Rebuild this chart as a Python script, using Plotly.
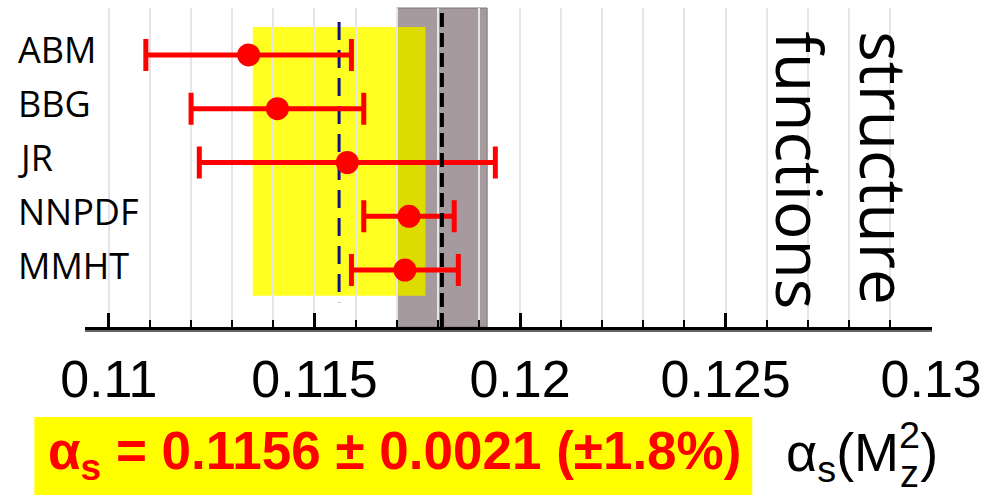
import plotly.graph_objects as go

# ---------------- data ----------------
groups = ["ABM", "BBG", "JR", "NNPDF", "MMHT"]
alpha_vals = [0.1134, 0.1141, 0.1158, 0.1173, 0.1172]
err_minus = [0.0025, 0.0021, 0.0036, 0.0011, 0.0013]
err_plus = [0.0025, 0.0021, 0.0036, 0.0011, 0.0013]

avg_value = 0.1156
avg_error = 0.0021
world_value = 0.1181
world_error = 0.0011

tick_vals = [0.11, 0.115, 0.12, 0.125, 0.13]
tick_text = ["0.11", "0.115", "0.12", "0.125", "0.13"]

rows = list(range(len(groups)))

# ---------------- layout constants ----------------
W, H = 990, 498
ML, MR, MT, MB = 85, 52, 8, 171
PW = W - ML - MR
PH = H - MT - MB
XR = [0.10942, 0.13002]
YR = [5.06, -0.874]


def px_x(p):
    return (p - ML) / PW


def px_y(p):
    return (H - MB - p) / PH


YELLOW = "#ffff22"
OVERLAP = "#dcdc00"
GREY = "#a59b9e"
GRID = "#e4e4ea"

fig = go.Figure()

fig.add_trace(go.Scatter(
    x=alpha_vals, y=rows, mode="markers",
    marker=dict(size=23, color="#ff0000"),
    error_x=dict(type="data", symmetric=False, array=err_plus, arrayminus=err_minus,
                 color="#ff0000", thickness=5, width=16),
    showlegend=False, hoverinfo="skip",
))

w_lo, w_hi = world_value - world_error, world_value + world_error
a_lo, a_hi = avg_value - avg_error, avg_value + avg_error
band_top, band_bot = -0.52, len(groups) - 1 + 0.48

shapes = [
    dict(type="rect", xref="x", yref="paper", x0=w_lo, x1=w_hi, y0=0, y1=1,
         fillcolor=GREY, line=dict(color="#7d7375", width=1), layer="below"),
    dict(type="rect", xref="x", yref="y", x0=a_lo, x1=min(a_hi, w_lo), y0=band_top, y1=band_bot,
         fillcolor=YELLOW, line=dict(width=0), layer="below"),
    dict(type="rect", xref="x", yref="y", x0=max(a_lo, w_lo), x1=a_hi, y0=band_top, y1=band_bot,
         fillcolor=OVERLAP, line=dict(width=0), layer="below"),
    dict(type="line", xref="x", yref="y", x0=avg_value, x1=avg_value, y0=-0.614, y1=len(groups) - 1 + 0.6,
         line=dict(color="#10108a", width=3, dash="18px,10px"), layer="below"),
    dict(type="line", xref="x", yref="paper", x0=world_value, x1=world_value, y0=0, y1=1,
         line=dict(color="black", width=4, dash="14px,6px"), layer="above"),
    dict(type="line", xref="paper", yref="paper", x0=0, x1=1, y0=-4 / PH, y1=-4 / PH,
         line=dict(color="#333333", width=1.5)),
    dict(type="rect", xref="paper", yref="paper", x0=px_x(34), x1=px_x(757), y0=px_y(495), y1=px_y(417),
         fillcolor="#ffff00", line=dict(width=0)),
]

annotations = []
for g, r in zip(groups, rows):
    annotations.append(dict(
        text=g, xref="paper", yref="y", x=px_x(16), y=r, xanchor="left", yanchor="middle",
        showarrow=False, yshift=5, font=dict(family="Open Sans", size=36, color="black")))

annotations.append(dict(
    text="structure<br>functions", xref="paper", yref="paper", x=px_x(848), y=px_y(170),
    xanchor="center", yanchor="middle", textangle=90, align="left", showarrow=False,
    font=dict(family="Open Sans", size=64, color="black")))

annotations.append(dict(
    text="<b>α<sub>s</sub> = %.4f ± %.4f (±%.1f%%)</b>" % (avg_value, avg_error, 100 * avg_error / avg_value),
    xref="paper", yref="paper", x=px_x(397), y=px_y(455), xanchor="center", yanchor="middle",
    showarrow=False,
    font=dict(family="Liberation Sans, Arial", size=53, color="#ff0000")))

# axis title alpha_s(M_z^2) with stacked sub/superscript
annotations.append(dict(
    text="α<sub>s</sub>(M<sup>2</sup>)",
    xref="paper", yref="paper", x=px_x(946), y=px_y(452), xanchor="right", yanchor="middle",
    showarrow=False,
    font=dict(family="Liberation Sans, Arial", size=54, color="black")))
annotations.append(dict(
    text="z",
    xref="paper", yref="paper", x=px_x(915), y=px_y(474), xanchor="center", yanchor="middle",
    showarrow=False,
    font=dict(family="Liberation Sans, Arial", size=38, color="black")))

fig.update_layout(
    width=W, height=H,
    margin=dict(l=ML, r=MR, t=MT, b=MB, pad=0),
    paper_bgcolor="white", plot_bgcolor="white",
    shapes=shapes, annotations=annotations,
    xaxis=dict(
        range=XR, tickmode="array", tickvals=tick_vals, ticktext=tick_text,
        ticks="inside", ticklen=14, tickwidth=3, tickcolor="black",
        showgrid=True, gridcolor=GRID, gridwidth=1.5,
        minor=dict(tickmode="linear", tick0=0.11, dtick=0.001, ticks="inside", ticklen=7,
                   tickwidth=2, tickcolor="black", showgrid=True, gridcolor=GRID, gridwidth=1.5),
        showline=True, linecolor="black", linewidth=3, zeroline=False,
        tickfont=dict(family="Liberation Sans, Arial", size=52, color="black"),
        ticklabelstandoff=5,
    ),
    yaxis=dict(range=YR, showgrid=False, zeroline=False, showticklabels=False,
               showline=False, ticks=""),
)

fig.write_html("out.html")
